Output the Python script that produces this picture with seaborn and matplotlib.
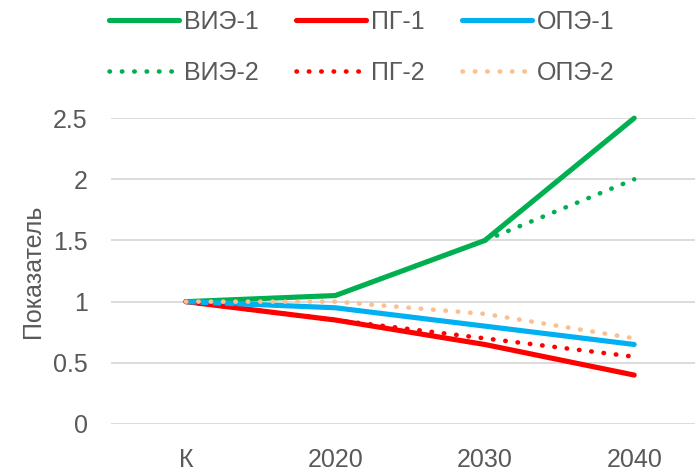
import pandas as pd
import matplotlib.pyplot as plt
import seaborn as sns

# Chart data
years = ["К", "2020", "2030", "2040"]
vie_1 = [1.0, 1.05, 1.5, 2.5]
pg_1 = [1.0, 0.85, 0.65, 0.4]
ope_1 = [1.0, 0.95, 0.8, 0.65]
vie_2 = [1.0, 1.05, 1.5, 2.0]
pg_2 = [1.0, 0.85, 0.7, 0.55]
ope_2 = [1.0, 1.0, 0.9, 0.7]

sns.set_style("white")
plt.rcParams['font.family'] = ['Liberation Sans', 'DejaVu Sans']
text_color = "#595959"

fig = plt.figure(figsize=(6.95, 4.72), dpi=100)
ax = fig.add_axes([0.16, 0.1017, 0.86, 0.648])

dot = (0, (0.1, 2.6))
series = [
    ("ВИЭ-1", vie_1, "#00b050", "-", 3.7),
    ("ПГ-1", pg_1, "#ff0000", "-", 3.7),
    ("ОПЭ-1", ope_1, "#00b0f0", "-", 3.7),
    ("ВИЭ-2", vie_2, "#00b050", dot, 3.3),
    ("ПГ-2", pg_2, "#ff0000", dot, 3.3),
    ("ОПЭ-2", ope_2, "#fac090", dot, 3.3),
]

x = list(range(len(years)))
handles = {}
for name, vals, color, ls, lw in series:
    sns.lineplot(x=x, y=vals, ax=ax, color=color, linewidth=lw,
                 linestyle=ls, solid_capstyle="round", dash_capstyle="round",
                 clip_on=False, label=name)
    handles[name] = ax.get_lines()[-1]

ax.set_xticks(x)
ax.set_xticklabels(years)
ax.set_xlim(-0.5, 3.5)
ax.set_ylim(0, 2.5)
ax.set_yticks([0, 0.5, 1, 1.5, 2, 2.5])
ax.set_yticklabels(["0", "0.5", "1", "1.5", "2", "2.5"])
ax.grid(axis="y", color="#d9d9d9", linewidth=1.3)
ax.set_axisbelow(True)
sns.despine(ax=ax, left=True, bottom=True)
ax.tick_params(axis="y", length=0, labelsize=18, colors=text_color, pad=17)
ax.tick_params(axis="x", length=0, labelsize=18, colors=text_color, pad=17)
ax.set_xlabel("")
ax.set_ylabel("Показатель", fontsize=18, color=text_color, labelpad=6)

order = ["ВИЭ-1", "ВИЭ-2", "ПГ-1", "ПГ-2", "ОПЭ-1", "ОПЭ-2"]
ax.legend([handles[n] for n in order], order, ncol=3, loc="upper center",
          bbox_to_anchor=(362 / 695, 1 - 10 / 472), bbox_transform=fig.transFigure,
          frameon=False, fontsize=18, labelcolor=text_color,
          handlelength=2.8, handletextpad=0.2, columnspacing=1.5,
          labelspacing=1.08, borderpad=0, borderaxespad=0)

fig.savefig("out.png", dpi=100)
